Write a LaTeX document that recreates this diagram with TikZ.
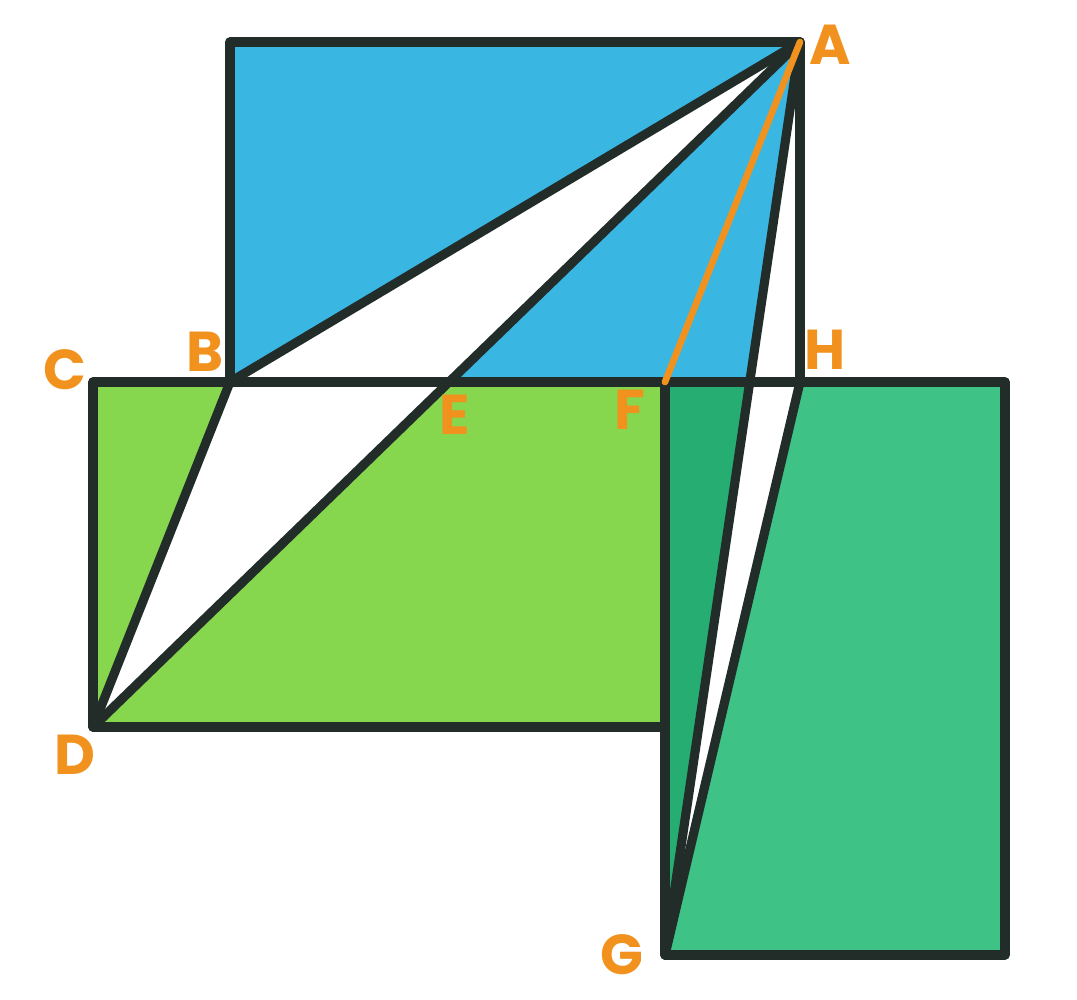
\documentclass[tikz,border=0pt]{standalone}
\usepackage{fontspec}
\setmainfont{Poppins}
\definecolor{skyb}{HTML}{3AB6E3}
\definecolor{lgreen}{HTML}{86D64E}
\definecolor{dgreen}{HTML}{26AD72}
\definecolor{mgreen}{HTML}{3EC286}
\definecolor{ink}{HTML}{222D2A}
\definecolor{lbl}{HTML}{F2921E}
\tikzset{
  edge/.style={draw=ink, line width=2.6pt, line join=round, line cap=round},
  lab/.style={text=lbl, font=\fontsize{16}{16}\selectfont\bfseries, inner sep=0pt},
  orangeline/.style={draw=lbl, line width=1.9pt, line cap=round}
}
\begin{document}
\begin{tikzpicture}
\useasboundingbox (0,0) rectangle (10.77,10);
% key points
\coordinate (T) at (2.30,9.58);
\coordinate (A) at (8.00,9.58);
\coordinate (B) at (2.30,6.18);
\coordinate (H) at (8.00,6.18);
\coordinate (C) at (0.93,6.18);
\coordinate (D) at (0.93,2.73);
\coordinate (F) at (6.65,6.18);
\coordinate (M) at (6.65,2.73);
\coordinate (R) at (10.05,6.18);
\coordinate (S) at (10.05,0.45);
\coordinate (G) at (6.65,0.45);
\coordinate (E) at (intersection of A--D and C--R);
\coordinate (P) at (intersection of A--G and C--R);
% fills
\fill[skyb] (T) -- (A) -- (B) -- cycle;
\fill[skyb] (A) -- (E) -- (P) -- cycle;
\fill[lgreen] (C) -- (B) -- (D) -- cycle;
\fill[lgreen] (E) -- (F) -- (M) -- (D) -- cycle;
\fill[dgreen] (F) -- (P) -- (G) -- cycle;
\fill[mgreen] (H) -- (R) -- (S) -- (G) -- cycle;
% outlines
\draw[edge] (T) -- (A) -- (H) -- (B) -- cycle;
\draw[edge] (C) -- (F) -- (M) -- (D) -- cycle;
\draw[edge] (F) -- (R) -- (S) -- (G) -- cycle;
\draw[edge] (A) -- (B);
\draw[edge] (A) -- (D);
\draw[edge] (B) -- (D);
\draw[edge] (A) -- (G);
\draw[edge] (H) -- (G);
\draw[orangeline] (F) -- (A);
% labels
\node[lab] (lA) at (8.30,9.55) {A};
\node[lab] (lB) at (2.05,6.48) {B};
\node[lab] (lC) at (0.65,6.30) {C};
\node[lab] (lD) at (0.75,2.45) {D};
\node[lab] (lE) at (4.55,5.85) {E};
\node[lab] (lF) at (6.30,5.90) {F};
\node[lab] (lG) at (6.22,0.45) {G};
\node[lab] (lH) at (8.25,6.50) {H};
\end{tikzpicture}
\end{document}
